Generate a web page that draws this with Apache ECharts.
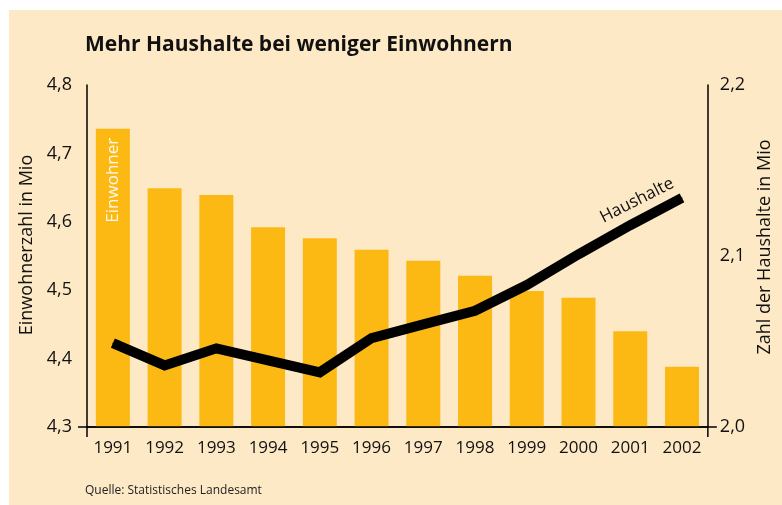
<!DOCTYPE html>
<html>
<head>
<meta charset="utf-8">
<script src="https://cdn.jsdelivr.net/npm/echarts@6/dist/echarts.min.js"></script>
<style>
html,body{margin:0;padding:0;background:#fff;}
#wrap{position:absolute;left:0;top:0;width:782px;height:505px;background:#fff;}
#chart{position:absolute;left:9px;top:10px;width:773px;height:495px;background:#fee9c6;}
</style>
</head>
<body>
<div id="wrap"><div id="chart"></div></div>
<script>
const years = ['1991','1992','1993','1994','1995','1996','1997','1998','1999','2000','2001','2002'];
const einwohner = [4.736, 4.649, 4.639, 4.592, 4.576, 4.559, 4.543, 4.521, 4.499, 4.489, 4.440, 4.388];
const haushalte = [2.049, 2.036, 2.046, 2.039, 2.032, 2.052, 2.060, 2.068, 2.083, 2.101, 2.118, 2.134];
const leftTicks = [4.3, 4.4, 4.5, 4.6, 4.7, 4.8];
const rightTicks = [2.0, 2.1, 2.2];

const font = "'Open Sans', 'Noto Sans', sans-serif";
const fmt = v => v.toFixed(1).replace('.', ',');

const chart = echarts.init(document.getElementById('chart'));
const barData = einwohner.map((v, i) => i === 0 ? {
  value: v,
  label: {show: true, position: 'insideTop', rotate: 90, align: 'right', verticalAlign: 'middle',
    distance: 9, color: '#fff8ea', fontSize: 17, fontFamily: font, formatter: 'Einwohner'}
} : v);
const lineData = haushalte.map((v, i) => i === 10 ? {
  value: v,
  label: {show: true, position: 'top', rotate: 27, distance: 0, offset: [17, -10],
    color: '#111', fontSize: 17, fontFamily: font, formatter: 'Haushalte'}
} : v);

chart.setOption({
  animation: false,
  title: [
    {text: 'Mehr Haushalte bei weniger Einwohnern', left: 71, top: 20,
     textStyle: {fontFamily: font, fontWeight: 'bold', fontSize: 21, color: '#111'}},
    {text: 'Quelle: Statistisches Landesamt', left: 71, top: 470,
     textStyle: {fontFamily: font, fontWeight: 'normal', fontSize: 12, color: '#222'}}
  ],
  grid: {left: 78, right: 69, top: 75, bottom: 78},
  xAxis: {
    type: 'category', data: years,
    axisLine: {lineStyle: {color: '#000', width: 1.5}},
    axisTick: {show: false},
    axisLabel: {color: '#111', fontSize: 17, fontFamily: font, margin: 13, interval: 0}
  },
  yAxis: [
    {type: 'value', min: leftTicks[0], max: leftTicks[leftTicks.length - 1], interval: 0.1,
     position: 'left',
     name: 'Einwohnerzahl in Mio', nameLocation: 'middle', nameRotate: 90, nameGap: 48,
     nameTextStyle: {fontFamily: font, fontSize: 18, color: '#111', padding: [0, 0, 0, 22]},
     axisLine: {show: true, lineStyle: {color: '#000', width: 1.5}},
     axisTick: {show: false}, splitLine: {show: false},
     axisLabel: {color: '#111', fontSize: 18, fontFamily: font, margin: 15, formatter: fmt}},
    {type: 'value', min: rightTicks[0], max: rightTicks[rightTicks.length - 1], interval: 0.1,
     position: 'right',
     name: 'Zahl der Haushalte in Mio', nameLocation: 'middle', nameRotate: 90, nameGap: 43,
     nameTextStyle: {fontFamily: font, fontSize: 18, color: '#111', padding: [0, 0, 0, 18]},
     axisLine: {show: true, lineStyle: {color: '#000', width: 1.5}},
     axisTick: {show: false}, splitLine: {show: false},
     axisLabel: {color: '#111', fontSize: 18, fontFamily: font, margin: 12, formatter: fmt}}
  ],
  series: [
    {type: 'bar', data: barData, barWidth: 34, itemStyle: {color: '#fcb914'}, yAxisIndex: 0},
    {type: 'line', data: lineData, yAxisIndex: 1, symbol: 'circle', symbolSize: 1, showSymbol: true,
     itemStyle: {color: '#000'}, lineStyle: {color: '#000', width: 10, cap: 'butt', join: 'miter'}, z: 5}
  ]
});

// corner extensions of the axes, positioned through the axes' own scales
const p0 = chart.convertToPixel({xAxisIndex: 0}, years[0]);
const p1 = chart.convertToPixel({xAxisIndex: 0}, years[1]);
const pn = chart.convertToPixel({xAxisIndex: 0}, years[years.length - 1]);
const band = p1 - p0;
const xl = p0 - band / 2, xr = pn + band / 2;
const yb = chart.convertToPixel({yAxisIndex: 0}, leftTicks[0]);
const ls = {stroke: '#000', lineWidth: 1.5};
chart.setOption({
  graphic: [
    {type: 'line', shape: {x1: xl - 9, y1: yb, x2: xr + 9, y2: yb}, style: ls, z: 10},
    {type: 'line', shape: {x1: xl, y1: yb, x2: xl, y2: yb + 10}, style: ls, z: 10},
    {type: 'line', shape: {x1: xr, y1: yb, x2: xr, y2: yb + 10}, style: ls, z: 10}
  ]
});
</script>
</body>
</html>
